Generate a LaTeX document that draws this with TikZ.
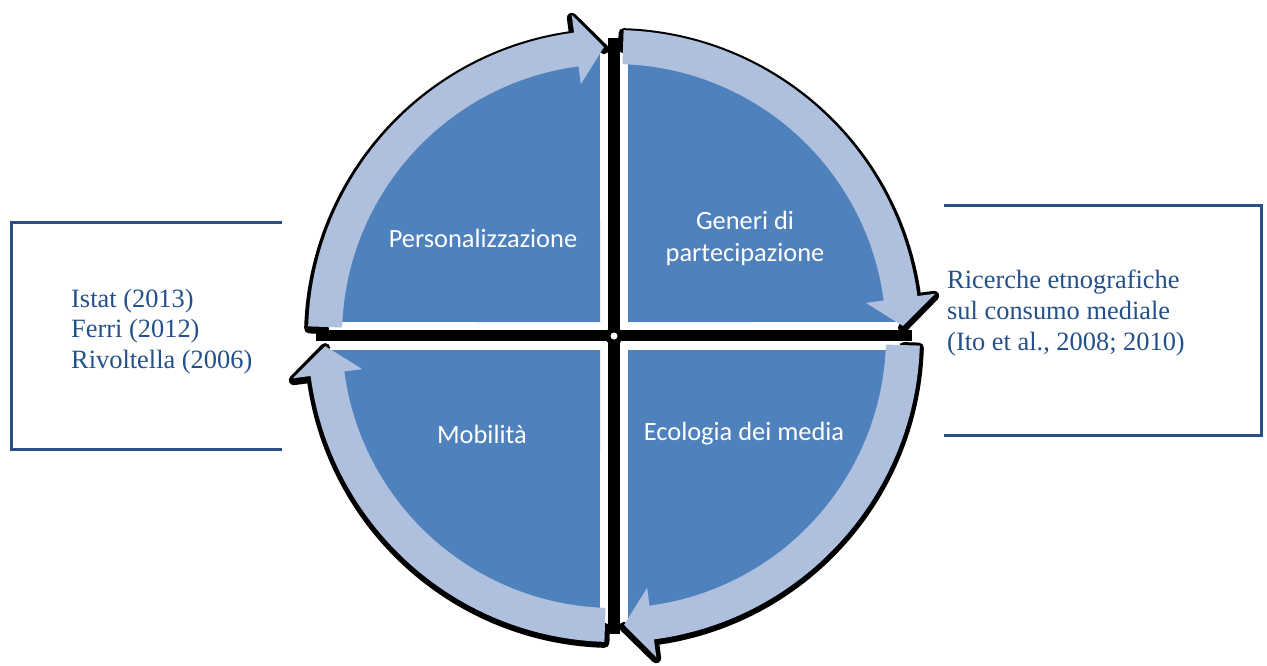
\documentclass[tikz,border=0pt]{standalone}
\usepackage{fontspec}
\setmainfont{Liberation Serif}
\newfontfamily\labelfont{Carlito}
\definecolor{quadblue}{HTML}{4F81BD}
\definecolor{bandblue}{HTML}{AFC0DE}
\definecolor{refblue}{HTML}{24508A}
\definecolor{framecol}{HTML}{2A5185}
\tikzset{
  qlabel/.style={text=white, font=\labelfont\fontsize{26.4}{32}\selectfont, align=center, inner sep=0pt},
  reftext/.style={text=refblue, font=\fontsize{26.4}{30.8}\selectfont, align=left, inner sep=0pt, anchor=west},
  frameline/.style={draw=framecol, line width=3pt, line join=miter},
  outline/.style={draw=black, line width=10pt, line join=round, line cap=round},
}
\begin{document}
\begin{tikzpicture}[x=1pt,y=1pt]
\useasboundingbox (0,0) rectangle (1267,-665);

% ---- cycle of four quadrants ----
\begin{scope}[shift={(614,-336)}]
  % dark shadow edge of each curved arrow (outer side only), dropped slightly
  \foreach \r in {0,90,180,270}{
    \draw[outline, shift={(0,-2)}, rotate=\r] (88.2:290) -- (88.2:305)
      arc[start angle=88.2, end angle=7.5, radius=305pt] -- (7.5:323) -- (2:289);
  }
  % dividing cross
  \fill[black] (-6,-298) rectangle (6,298);
  \fill[black] (-298,-5) rectangle (298,6);
  \fill[black] (0,0) circle[radius=9pt];
  \fill[white] (0,0) circle[radius=3.5pt];
  % quadrants
  \foreach \r in {0,90,180,270}{
    \fill[quadblue, rotate=\r] (14,14) -- (87.18:285)
      arc[start angle=87.18, end angle=2.82, radius=285pt] -- cycle;
  }
  % curved arrows running clockwise
  \foreach \r in {0,90,180,270}{
    \fill[bandblue, rotate=\r] (88.2:306)
      arc[start angle=88.2, end angle=7.5, radius=306pt]
      -- (7.5:324) -- (2:289) -- (7.5:254) -- (7.5:272)
      arc[start angle=7.5, end angle=88.2, radius=272pt] -- cycle;
  }
\end{scope}

% ---- quadrant labels ----
\node[qlabel] (pers) at (483,-238) {Personalizzazione};
\node[qlabel] (gen) at (745,-238) {Generi di\\partecipazione};
\node[qlabel] (mob) at (482,-434) {Mobilità};
\node[qlabel] (eco) at (744,-434) {Ecologia dei media};

% ---- reference frames ----
\coordinate (lt) at (282,-222);
\coordinate (lb) at (282,-449);
\draw[frameline] (lt) -- (11,-222) -- (11,-449) -- (lb);
\coordinate (rt) at (944,-205);
\coordinate (rb) at (944,-435);
\draw[frameline] (rt) -- (1261,-205) -- (1261,-435) -- (rb);

\node[reftext] (refleft) at (71,-331.5) {Istat (2013)\\Ferri (2012)\\Rivoltella (2006)};
\node[reftext] (refright) at (947,-313) {Ricerche etnografiche\\sul consumo mediale\\(Ito et al., 2008; 2010)};
\end{tikzpicture}
\end{document}
